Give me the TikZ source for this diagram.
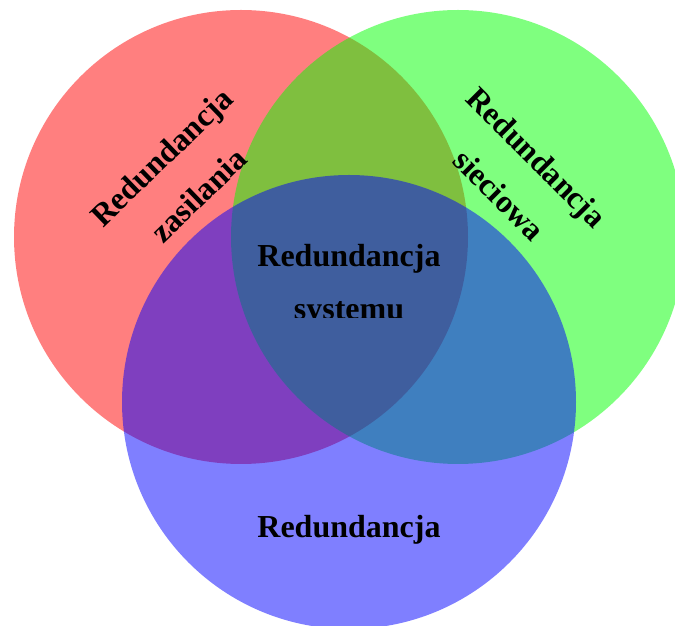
\documentclass[tikz,border=0pt]{standalone}
\usepackage{fontspec}
\setmainfont{Liberation Serif}

\begin{document}
\begin{tikzpicture}[x=1pt, y=1pt,
    krag/.style={circle, inner sep=0pt, minimum size=454pt, fill opacity=0.5},
    napis/.style={font=\fontsize{32}{38}\selectfont\bfseries, inner sep=0pt, anchor=base}]
  \useasboundingbox (0,0) rectangle (675,626);
  \clip (0,0) rectangle (675,626);

  % trzy kola
  \node[krag, fill=red] (zas) at (241,389) {};
  \node[krag, fill=green] (siec) at (458,389) {};
  \node[krag, fill=blue] (sys) at (349,224) {};

  % napisy
  \node[napis, rotate=44] (zas1) at (169,461) {Redundancja};
  \node[napis, rotate=44] (zas2) at (206,423) {zasilania};
  \node[napis, rotate=-45] (siec1) at (529,461) {Redundancja};
  \node[napis, rotate=-45] (siec2) at (492,423) {sieciowa};
  \node[napis] (srod1) at (349,359) {Redundancja};
  \begin{scope}
    \clip (0,308) rectangle (675,626);
    \node[napis] (srod2) at (349,306.5) {systemu};
  \end{scope}
  \node[napis] (sys1) at (349,88) {Redundancja};
\end{tikzpicture}
\end{document}
